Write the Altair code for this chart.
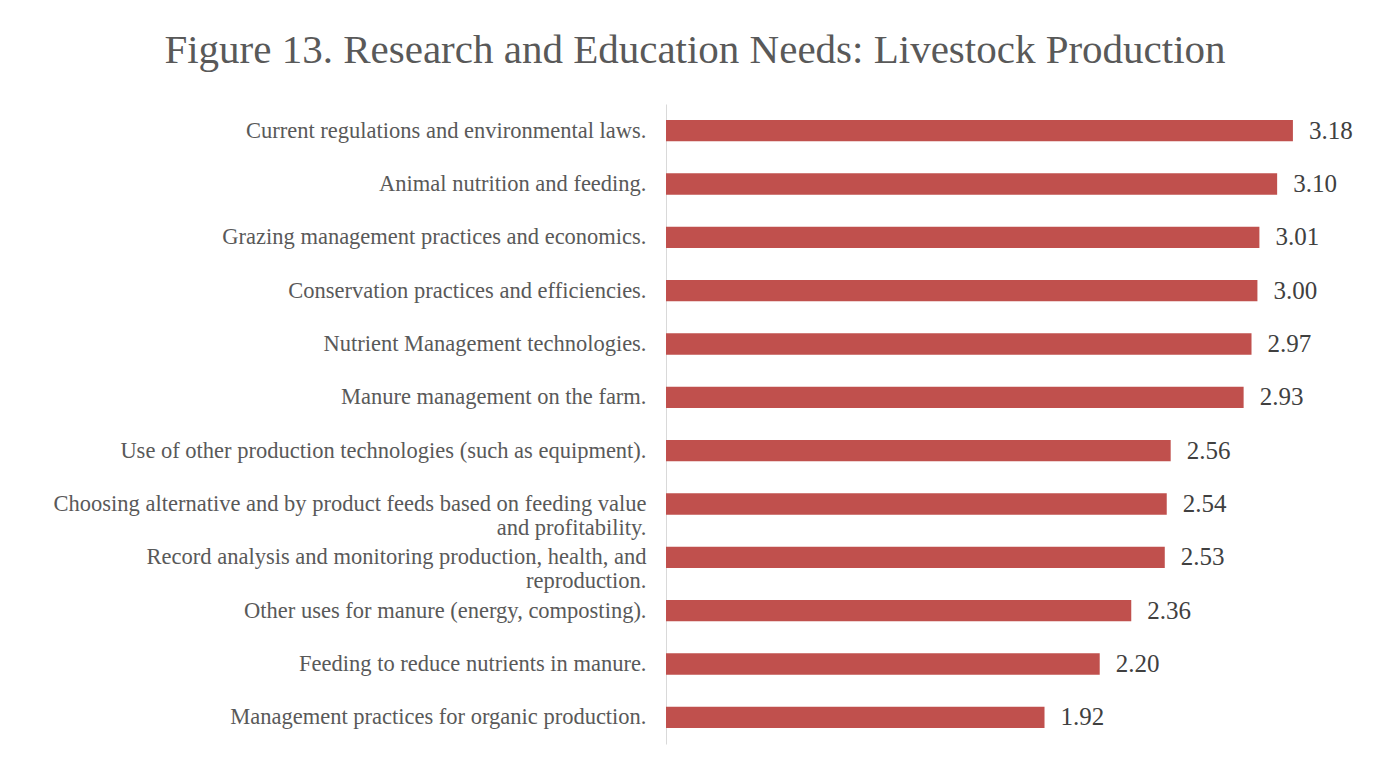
import altair as alt
import pandas as pd

categories = [
    "Current regulations and environmental laws.",
    "Animal nutrition and feeding.",
    "Grazing management practices and economics.",
    "Conservation practices and efficiencies.",
    "Nutrient Management technologies.",
    "Manure management on the farm.",
    "Use of other production technologies (such as equipment).",
    "Choosing alternative and by product feeds based on feeding value|and profitability.",
    "Record analysis and monitoring production, health, and|reproduction.",
    "Other uses for manure (energy, composting).",
    "Feeding to reduce nutrients in manure.",
    "Management practices for organic production.",
]
values = [3.18, 3.10, 3.01, 3.00, 2.97, 2.93, 2.56, 2.54, 2.53, 2.36, 2.20, 1.92]

df = pd.DataFrame({"cat": categories, "val": values})
df["lbl"] = df["val"].map(lambda v: f"{v:.2f}")

FONT = "Liberation Serif"

y = alt.Y("cat:N", sort=categories, title=None,
          scale=alt.Scale(paddingInner=0.6, paddingOuter=0.3),
          axis=alt.Axis(labelExpr="split(datum.label, '|')", labelFont=FONT,
                        labelFontSize=22.5, labelColor="#595959", ticks=False,
                        domainColor="#d9d9d9", labelPadding=20, labelLimit=700,
                        labelLineHeight=24))
x = alt.X("val:Q", scale=alt.Scale(domain=[0, 3.5]), axis=None)

bars = alt.Chart(df).mark_bar(color="#C0504D").encode(x=x, y=y)
text = alt.Chart(df).mark_text(align="left", dx=16, font=FONT, fontSize=25,
                               color="#404040").encode(x=x, y=y, text="lbl:N")

chart = (bars + text).properties(
    width=690, height=640,
    padding={"left": 658, "top": 96, "right": 10, "bottom": 10},
    autosize=alt.AutoSizeParams(type="none"),
    title=alt.TitleParams("Figure 13. Research and Education Needs: Livestock Production",
                          font=FONT, fontSize=41, fontWeight="normal", color="#595959",
                          anchor="middle", frame="group", dx=-316, offset=32),
).configure_view(stroke=None)

chart.save("out.html", embed_options={"renderer": "svg", "actions": False})
